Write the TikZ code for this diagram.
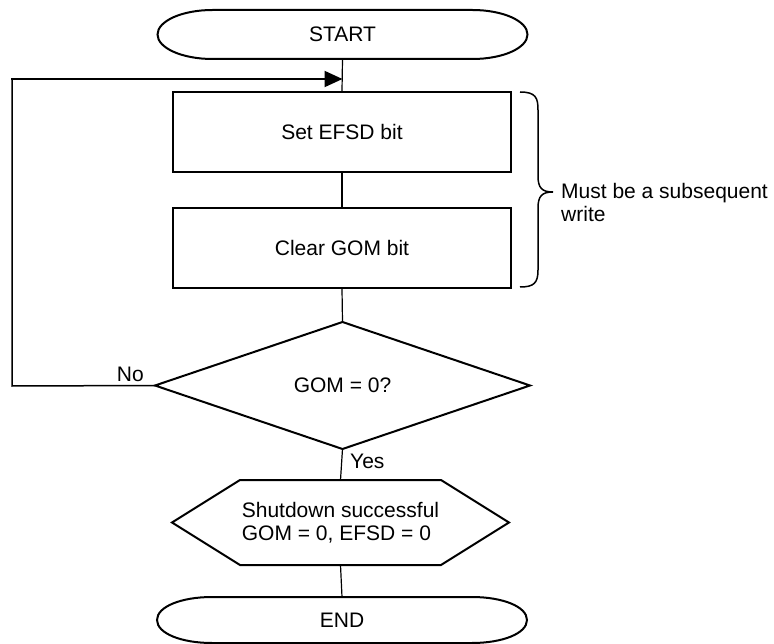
\documentclass[tikz,border=0pt]{standalone}
\usepackage{fontspec}
\setmainfont{Liberation Sans}
\usetikzlibrary{shapes.geometric,arrows.meta,calc}
\newcommand\termoutline[1]{%
 \draw[shapeline] ($(#1.north west)+(55,0)$) -- ($(#1.north east)+(-55,0)$)
   .. controls ($(#1.north east)+(-24.6,0)$) and ($(#1.east)+(0,-13.5)$) .. (#1.east)
   .. controls ($(#1.east)+(0,13.5)$) and ($(#1.south east)+(-24.6,0)$) .. ($(#1.south east)+(-55,0)$)
   -- ($(#1.south west)+(55,0)$)
   .. controls ($(#1.south west)+(24.6,0)$) and ($(#1.west)+(0,13.5)$) .. (#1.west)
   .. controls ($(#1.west)+(0,-13.5)$) and ($(#1.north west)+(24.6,0)$) .. cycle;}
\begin{document}
\begin{tikzpicture}[x=1pt,y=-1pt,
  every node/.style={font=\fontsize{21}{23.5}\selectfont},
  shapeline/.style={line width=2pt},
  conn/.style={line width=1.2pt},
  boxnode/.style={draw,line width=2pt,minimum width=338pt,minimum height=80pt,inner sep=0pt},
  termnode/.style={minimum width=370pt,minimum height=49pt,inner sep=0pt,outer sep=0pt},
  lbl/.style={inner sep=0pt}]
\useasboundingbox (0,0) rectangle (774,644);
% nodes
\node[termnode] (start) at (342.5,34.5) {START};
\node[boxnode] (b1) at (342,132) {Set EFSD bit};
\node[boxnode] (b2) at (342,248) {Clear GOM bit};
\node[draw,diamond,shapeline,aspect=3,minimum width=375pt,minimum height=127pt,inner sep=0pt,outer sep=0pt] (dec) at (342.5,385.5) {GOM = 0?};
\node[minimum width=337pt,minimum height=85pt,inner sep=0pt,outer sep=0pt,align=left] (hex) at (340.5,522.5) {Shutdown successful\\GOM = 0, EFSD = 0};
\node[termnode,minimum height=46pt] (end) at (342,620) {END};
% outlines
\termoutline{start}
\termoutline{end}
\draw[shapeline] (hex.west) -- ($(hex.north west)+(68,0)$) -- ($(hex.north east)+(-68,0)$) -- (hex.east)
  -- ($(hex.south east)+(-68,0)$) -- ($(hex.south west)+(68,0)$) -- cycle;
% connectors
\draw[conn] (start.south) -- (b1.north);
\draw[conn] (b1.south) -- (b2.north);
\draw[conn] (b2.south) -- (dec.north);
\draw[conn] (dec.south) -- (hex.north);
\draw[conn] (hex.south) -- (end.north);
% return loop
\coordinate (lp1) at (12,386);
\coordinate (lp2) at (12,79);
\coordinate (ar) at (342.5,79);
\draw[conn,line width=1.5pt] (dec.west) -- (lp1) -- (lp2);
\draw[line width=2pt,-{Triangle[length=18pt,width=16pt]}] ($(lp2)+(-0.75,0)$) -- (ar);
% labels
\node[lbl,anchor=south east] (no) at (144,382) {No};
\node[lbl,anchor=west] (yes) at (350,461) {Yes};
% brace
\draw[line width=1.5pt] (520,92) .. controls (536,92) and (538,98) .. (538,110) -- (538,176)
  .. controls (538,188) and (542,192) .. (553,192)
  .. controls (542,192) and (538,196) .. (538,208) -- (538,270)
  .. controls (538,283) and (534,287) .. (520,287);
\node[lbl,anchor=west,align=left] (note) at (561,202.5) {Must be a subsequent\\write};
\end{tikzpicture}
\end{document}
